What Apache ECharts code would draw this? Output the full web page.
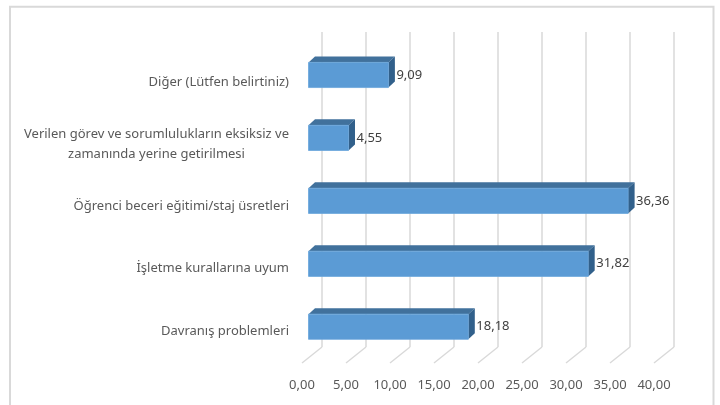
<!DOCTYPE html>
<html><head><meta charset="utf-8">
<script src="https://cdn.jsdelivr.net/npm/echarts@6/dist/echarts.min.js"></script>
<style>html,body{margin:0;padding:0;background:#fff}#c{width:720px;height:405px}</style>
</head>
<body><div id="c"></div>
<script>
var categories = [
  "Davranış problemleri",
  "İşletme kurallarına uyum",
  "Öğrenci beceri eğitimi/staj üsretleri",
  "Verilen görev ve sorumlulukların eksiksiz ve\nzamanında yerine getirilmesi",
  "Diğer (Lütfen belirtiniz)"
];
var values = [18.18, 31.82, 36.36, 4.55, 9.09];
var ticks = [0, 5, 10, 15, 20, 25, 30, 35, 40];

var FONT = '"Noto Sans", sans-serif';
var GRID_COLOR = '#d9d9d9';
function fmt(v) { return v.toFixed(2).replace('.', ','); }

var chart = echarts.init(document.getElementById('c'), null, { renderer: 'canvas' });

var option = {
  backgroundColor: '#ffffff',
  animation: false,
  graphic: [{
    type: 'rect', silent: true, z: -10,
    shape: { x: 10, y: 6.7, width: 703.5, height: 430 },
    style: { fill: 'none', stroke: '#d9d9d9', lineWidth: 2 }
  }],
  grid: [
    { left: 322, width: 352, top: 32, height: 315 },
    { left: 308.5, width: 351.6, top: 43.5, height: 314.7 },
    { left: 302, width: 352, top: 51, height: 311 }
  ],
  xAxis: [
    { gridIndex: 0, type: 'value', min: 0, max: 40, interval: 5,
      axisLine: { show: false }, axisTick: { show: false }, axisLabel: { show: false },
      splitLine: { show: true, lineStyle: { color: GRID_COLOR, width: 1.5 } } },
    { gridIndex: 1, type: 'value', min: 0, max: 40, interval: 5, show: false },
    { gridIndex: 2, type: 'value', min: 0, max: 40, interval: 5,
      axisLine: { show: false }, axisTick: { show: false }, splitLine: { show: false },
      axisLabel: { show: true, margin: 17, color: '#595959', fontSize: 13, fontFamily: FONT,
        formatter: function (v) { return fmt(v); } } }
  ],
  yAxis: [
    { gridIndex: 0, type: 'value', min: 0, max: 1, show: false },
    { gridIndex: 1, type: 'category', data: categories, show: false },
    { gridIndex: 2, type: 'category', data: categories,
      axisLine: { show: false }, axisTick: { show: false }, splitLine: { show: false },
      axisLabel: {
        margin: 13, color: '#595959', fontSize: 13, fontFamily: FONT,
        formatter: function (v) {
          if (v.indexOf('\n') >= 0) {
            return v.split('\n').map(function (s) { return '{c|' + s + '}'; }).join('\n');
          }
          return v;
        },
        rich: {
          c: { align: 'center', fontSize: 13, fontFamily: FONT, color: '#595959', lineHeight: 20 }
        }
      } }
  ],
  series: [
    {
      type: 'custom', xAxisIndex: 0, yAxisIndex: 0, silent: true, z: 1,
      data: ticks.map(function (t) { return [t]; }),
      encode: { x: 0 },
      renderItem: function (params, api) {
        var p = api.coord([api.value(0), 0]);
        return {
          type: 'line',
          shape: { x1: p[0], y1: p[1], x2: p[0] - 20, y2: p[1] + 16 },
          style: { stroke: GRID_COLOR, lineWidth: 1.5 }
        };
      }
    },
    {
      type: 'custom', xAxisIndex: 1, yAxisIndex: 1, silent: true, z: 5,
      data: values.map(function (v, i) { return [v, i]; }),
      encode: { x: 0, y: 1 },
      renderItem: function (params, api) {
        var v = api.value(0), idx = api.value(1);
        var s = api.coord([0, idx]);
        var e = api.coord([v, idx]);
        var h = api.size([0, 1])[1] * 0.4;
        var dx = 6.5, dy = 6;
        var x0 = s[0], x1 = e[0], y0 = e[1] - h / 2, y1 = e[1] + h / 2;
        return {
          type: 'group',
          children: [
            { type: 'polygon', shape: { points: [[x0, y0], [x0 + dx, y0 - dy], [x1 + dx, y0 - dy], [x1, y0]] },
              style: { fill: '#41719c' } },
            { type: 'polygon', shape: { points: [[x1, y0], [x1 + dx, y0 - dy], [x1 + dx, y1 - dy], [x1, y1]] },
              style: { fill: '#31608b' } },
            { type: 'rect', shape: { x: x0, y: y0, width: x1 - x0, height: h },
              style: { fill: '#5b9bd5', stroke: '#6aa6dc', lineWidth: 0.8 } },
            { type: 'text', x: x1 + dx + 1.5, y: e[1],
              style: { text: fmt(v), fill: '#404040', font: '13px ' + FONT, textAlign: 'left', textVerticalAlign: 'middle' } }
          ]
        };
      }
    }
  ]
};
chart.setOption(option);
</script></body></html>
